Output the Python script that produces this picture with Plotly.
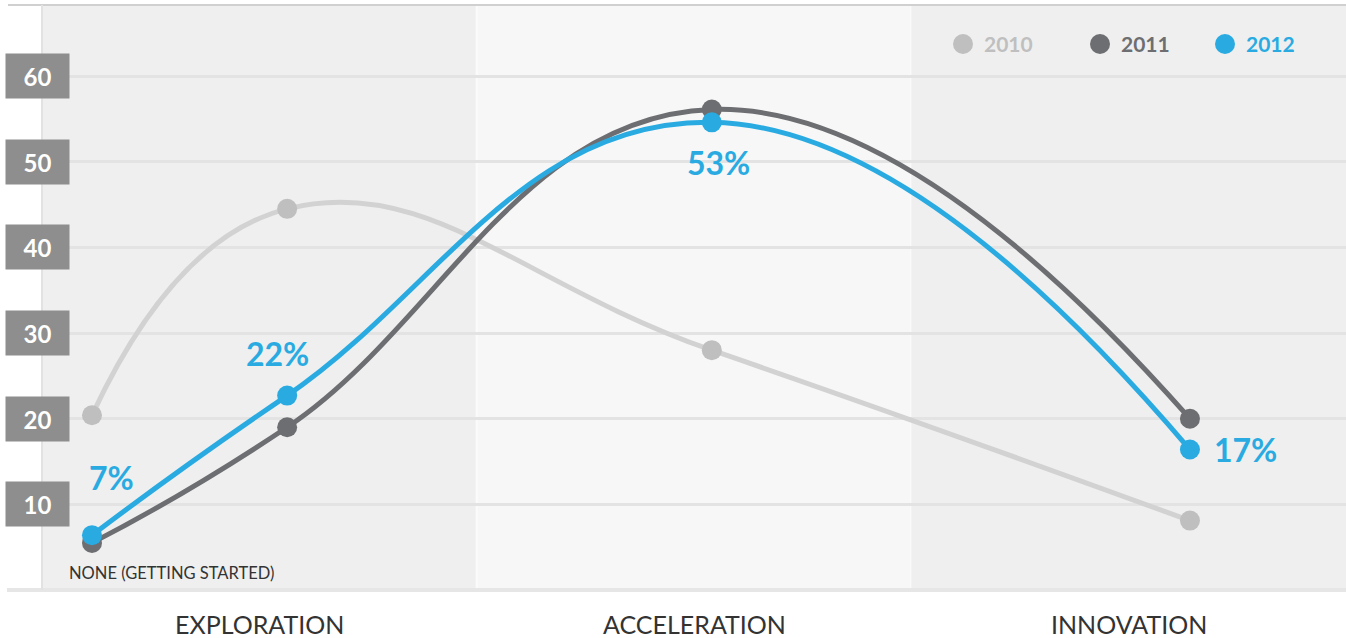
import plotly.graph_objects as go

# ---- data ----
stage_labels = ["EXPLORATION", "ACCELERATION", "INNOVATION"]
start_label = "NONE (GETTING STARTED)"
maturity_pos = [0.115, 0.564, 1.541, 2.641]   # position of each answer on the maturity scale
years = ["2010", "2011", "2012"]
v2010 = [20.4, 44.5, 28.0, 8.1]
v2011 = [5.5, 19.0, 56.1, 20.0]
v2012 = [6.4, 22.7, 54.6, 16.4]
pct_labels_2012 = ["7%", "22%", "53%", "17%"]
y_ticks = [10, 20, 30, 40, 50, 60]

C2010_LINE, C2010_MK = "#d2d2d2", "#bfbfbf"
C2011 = "#6d6e71"
C2012 = "#29abe2"
FONT = "Lato"

fig = go.Figure()
series = [(v2010, C2010_LINE, C2010_MK), (v2011, C2011, C2011), (v2012, C2012, C2012)]
for (vals, lc, mc), name in zip(series, years):
    fig.add_trace(go.Scatter(
        x=maturity_pos, y=vals, name=name, mode="lines+markers",
        line=dict(color=lc, width=5, shape="spline", smoothing=1.3),
        marker=dict(color=mc, size=20),
        showlegend=False, hoverinfo="skip"))

W, H = 1346, 638
ML, MR, MT, MB = 42, 0, 5, 48
PW, PH = W - ML - MR, H - MT - MB
YMAX = 68.3

def px_x(px):
    return (px - ML) / PW

def px_y(py):
    return (H - MB - py) / PH

shapes = []
band_cols = ["#efefef", "#f7f7f7", "#efefef"]
for i, c in enumerate(band_cols):
    shapes.append(dict(type="rect", xref="x", yref="paper", x0=i, x1=i + 1, y0=0, y1=1,
                       fillcolor=c, line=dict(width=2 if i == 1 else 0, color="#fbfbfb"),
                       layer="below"))
# frame lines
shapes.append(dict(type="line", xref="paper", yref="paper", x0=px_x(8), x1=1, y0=1, y1=1,
                   line=dict(color="#d0d0d0", width=2)))
shapes.append(dict(type="line", xref="paper", yref="paper", x0=px_x(7), x1=1, y0=0, y1=0,
                   line=dict(color="#e6e6e6", width=4)))
shapes.append(dict(type="line", xref="paper", yref="paper", x0=0, x1=0, y0=0, y1=1,
                   line=dict(color="#e2e2e2", width=2)))

annotations = []
# y tick boxes
for t in y_ticks:
    annotations.append(dict(xref="paper", yref="y", x=px_x(37), y=t, text="<b>%d</b>" % t,
                            showarrow=False, xanchor="center", yanchor="middle",
                            bgcolor="#8e8e8e", width=63, height=44, borderpad=0,
                            font=dict(family=FONT, size=24, color="white")))
# stage labels
for i, s in enumerate(stage_labels):
    annotations.append(dict(xref="x", yref="paper", x=i + 0.5, y=0, yshift=-34, text=s,
                            showarrow=False, xanchor="center", yanchor="middle",
                            borderpad=0,
                            font=dict(family=FONT, size=25, color="#333333")))
annotations.append(dict(xref="paper", yref="paper", x=px_x(171), y=px_y(573), text=start_label,
                        showarrow=False, xanchor="center", yanchor="middle",
                        font=dict(family=FONT, size=16.5, color="#333333")))
# 2012 percent labels
offsets = [(20, 58), (-10, 42), (7, -40), (56, 0)]
for xv, yv, lab, (dx, dy) in zip(maturity_pos, v2012, pct_labels_2012, offsets):
    annotations.append(dict(xref="x", yref="y", x=xv, y=yv, xshift=dx, yshift=dy,
                            text="<b>%s</b>" % lab, showarrow=False,
                            xanchor="center", yanchor="middle",
                            font=dict(family=FONT, size=32, color=C2012)))
# legend
leg_dots = [963, 1100, 1225]
leg_cols = [C2010_MK, C2011, C2012]
for name, px, c in zip(years, leg_dots, leg_cols):
    shapes.append(dict(type="circle", xref="paper", yref="paper", xsizemode="pixel",
                       ysizemode="pixel", xanchor=px_x(px), yanchor=px_y(44),
                       x0=-10, x1=10, y0=-10, y1=10, fillcolor=c, line=dict(width=0)))
    annotations.append(dict(xref="paper", yref="paper", x=px_x(px + 19), y=px_y(44),
                            text="<b>%s</b>" % name, showarrow=False,
                            xanchor="left", yanchor="middle",
                            font=dict(family=FONT, size=21, color=c)))

fig.update_layout(
    width=W, height=H, margin=dict(l=ML, r=MR, t=MT, b=MB),
    paper_bgcolor="white", plot_bgcolor="#efefef",
    xaxis=dict(range=[0, 3], showgrid=False, zeroline=False, showticklabels=False,
               fixedrange=True),
    yaxis=dict(range=[0, YMAX], tickvals=y_ticks, showgrid=True, gridcolor="#e3e3e3",
               gridwidth=3, zeroline=False, showticklabels=False, fixedrange=True),
    shapes=shapes, annotations=annotations, showlegend=False,
)
fig.write_html("out.html", config={"displayModeBar": False})
